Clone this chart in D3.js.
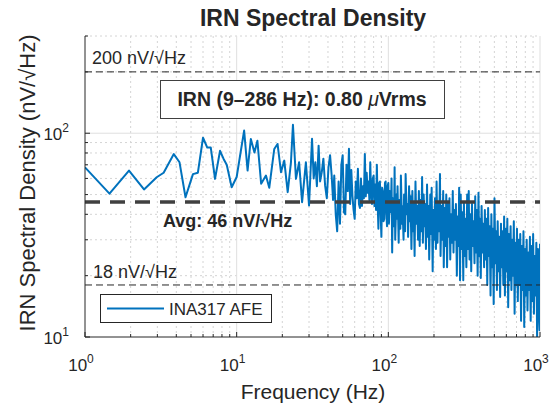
<!DOCTYPE html>
<html>
<head>
<meta charset="utf-8">
<title>IRN Spectral Density</title>
<script src="https://cdn.jsdelivr.net/npm/d3@7"></script>
<style>
  body { margin: 0; background: #fff; }
  text { font-family: "Liberation Sans", Arial, sans-serif; fill: #262626; }
</style>
</head>
<body>
<svg width="560" height="407"></svg>
<script>
// spectrum, split in four bands
var freqLow = [1, 1.45, 1.95, 2.45, 2.97, 3.3, 3.85, 4.2, 4.6, 5.15, 5.55, 6.0, 6.4, 6.75, 7.2, 7.77, 8.2, 8.6, 9.27, 10];
var irnLow  = [68, 50.5, 65.6, 53, 60.8, 64, 79, 72, 48.5, 63, 64, 95, 85, 85, 59.7, 82, 74.8, 70, 54.3, 61];

var freqMid = [10.6, 11.2, 11.8, 12.4, 13.1, 13.7, 14.5, 15.6, 16.4, 17.7, 18.6, 19.6, 20.6, 21.7, 22.8, 23.5, 24.6, 25.8, 27, 28.6, 30,
               31.4, 32.2, 33, 33.8, 34.7, 35.5, 36.4, 37.3, 38.3, 39.3, 40.3, 41.3, 42.3, 43.2];
var irnMid  = [80, 103, 65.6, 93.7, 80.5, 91.8, 56.5, 62, 54, 83.7, 88.6, 64.4, 73.4, 51.4, 72, 110, 59.7, 72, 45.9, 72, 44.2,
               94, 60, 72, 55, 86.9, 58, 64.4, 75, 55.3, 48, 68, 78, 62, 47];

var freqKnee = [44, 45, 46, 47, 48, 49, 50, 51, 52, 53, 54, 55, 56, 57, 58, 59, 60, 61, 62, 63, 64, 65, 66, 67, 68, 69, 70, 71,
                72, 73, 74, 75, 76, 77, 78, 79, 80, 81, 82, 83, 84, 85, 86, 87, 88, 89, 90, 91, 92, 93, 94, 95, 96, 97, 98, 99];
var irnKnee  = [62, 40, 33, 58, 36, 70, 78, 41, 40, 70, 52, 84, 45, 66, 49, 42, 38, 58, 48, 67, 45, 43, 60, 44, 55, 48, 79, 49,
                64, 51, 58, 47, 72, 50, 45, 60, 62, 44, 56, 42, 70, 46, 34, 57, 58, 40, 31, 54, 52, 37, 38, 57, 58, 41, 35, 55];

var freqHigh = [100, 101, 102, 104, 105, 106, 107, 109, 110, 111, 113, 114, 115, 117, 118, 120, 121, 123, 124, 126,
                127, 129, 130, 132, 134, 135, 137, 139, 140, 142, 144, 146, 147, 149, 151, 153, 155, 157, 159, 161,
                163, 165, 167, 169, 171, 173, 175, 177, 180, 182, 184, 186, 189, 191, 193, 196, 198, 201, 203, 206,
                208, 211, 213, 216, 219, 221, 224, 227, 230, 232, 235, 238, 241, 244, 247, 250, 253, 256, 259, 263,
                266, 269, 272, 276, 279, 283, 286, 290, 293, 297, 300, 304, 308, 312, 315, 319, 323, 327, 331, 335,
                339, 343, 348, 352, 356, 361, 365, 370, 374, 379, 383, 388, 393, 398, 402, 407, 412, 418, 423, 428,
                433, 438, 444, 449, 455, 460, 466, 472, 478, 483, 489, 495, 501, 508, 514, 520, 526, 533, 539, 546,
                553, 559, 566, 573, 580, 587, 595, 602, 609, 617, 624, 632, 640, 648, 656, 664, 672, 680, 688, 697,
                705, 714, 723, 732, 741, 750, 759, 768, 778, 787, 797, 807, 817, 827, 837, 847, 858, 868, 879, 890,
                901, 912, 923, 934, 946, 957, 969, 981, 993, 1000];
var irnHigh  = [57, 36, 52, 41, 60, 26, 48, 35, 68, 30, 50, 38, 55, 29, 47, 34, 62, 36, 44, 30,
                50, 33, 63, 40, 45, 31, 55, 37, 49, 27, 52, 33, 46, 25, 58, 36, 44, 30, 52, 28,
                47, 33, 61, 29, 50, 35, 45, 27, 56, 31, 44, 24, 50, 32, 54, 21, 42, 30, 48, 27,
                58, 29, 46, 33, 63, 25, 44, 30, 52, 22, 43, 28, 50, 22, 45, 31, 48, 24, 40, 29,
                52, 26, 42, 30, 45, 20, 39, 28, 54, 19, 50, 27, 41, 19, 46, 25, 38, 22, 50, 27,
                52, 24, 40, 21, 45, 28, 37, 23, 49, 26, 42, 20, 51, 25, 38, 19.5, 44, 26, 36, 22,
                42, 24, 38, 18, 43, 25, 35, 16, 40, 22, 34, 14.5, 48, 23, 33, 17, 37, 21, 31, 15.7,
                36, 22, 33, 18, 39, 16, 34, 21, 38, 14, 32, 19, 35, 17, 30, 20, 37, 13, 29, 18,
                34, 15, 30, 18, 32, 12, 28, 17, 33, 11.2, 27, 16, 30, 13.5, 26, 17, 31, 12, 28, 15,
                32, 13, 25, 16, 29, 10, 27, 14, 10.8, 28.7];

var refLevels = [200, 18];
var avgLevel = 46;
var xTicks = [1, 10, 100, 1000];
var yTicks = [10, 100];

var svg = d3.select("svg");
var plotL = 85, plotR = 540, plotT = 36, plotB = 337;

var x = d3.scaleLog().domain([1, 1000]).range([plotL, plotR]);
var y = d3.scaleLog().domain([10, 300]).range([plotB, plotT]);

var freq = freqLow.concat(freqMid, freqKnee, freqHigh);
var irn = irnLow.concat(irnMid, irnKnee, irnHigh);
var data = freq.map(function (f, i) { return [f, irn[i]]; });

// minor ticks between decades
var xMinor = [], yMinor = [];
[1, 10, 100].forEach(function (d) { for (var k = 2; k <= 9; k++) xMinor.push(d * k); });
[10, 100].forEach(function (d) { for (var k = 2; k <= 9; k++) if (d * k <= 300) yMinor.push(d * k); });

var grid = svg.append("g");
grid.selectAll("line.xmin").data(xMinor).enter().append("line")
    .attr("x1", d => x(d)).attr("x2", d => x(d)).attr("y1", plotT).attr("y2", plotB)
    .attr("stroke", "#d4d4d4").attr("stroke-dasharray", "2,3");
grid.selectAll("line.ymin").data(yMinor).enter().append("line")
    .attr("y1", d => y(d)).attr("y2", d => y(d)).attr("x1", plotL).attr("x2", plotR)
    .attr("stroke", "#d4d4d4").attr("stroke-dasharray", "2,3");
grid.selectAll("line.xmaj").data([10, 100, 1000]).enter().append("line")
    .attr("x1", d => x(d)).attr("x2", d => x(d)).attr("y1", plotT).attr("y2", plotB)
    .attr("stroke", "#dfdfdf");
grid.selectAll("line.ymaj").data([100]).enter().append("line")
    .attr("y1", d => y(d)).attr("y2", d => y(d)).attr("x1", plotL).attr("x2", plotR)
    .attr("stroke", "#dfdfdf");

svg.append("clipPath").attr("id", "clip").append("rect")
    .attr("x", plotL).attr("y", plotT).attr("width", plotR - plotL).attr("height", plotB - plotT);

var line = d3.line().x(d => x(d[0])).y(d => y(d[1]));
svg.append("path").datum(data)
    .attr("clip-path", "url(#clip)")
    .attr("fill", "none").attr("stroke", "#0072BD").attr("stroke-width", 2)
    .attr("stroke-linejoin", "round")
    .attr("d", line);

// reference lines
svg.selectAll("line.ref").data(refLevels).enter().append("line")
    .attr("x1", plotL).attr("x2", plotR).attr("y1", d => y(d)).attr("y2", d => y(d))
    .attr("stroke", "#262626").attr("stroke-width", 1).attr("stroke-dasharray", "7,4");
svg.append("line")
    .attr("x1", plotL).attr("x2", plotR).attr("y1", y(avgLevel)).attr("y2", y(avgLevel))
    .attr("stroke", "#404040").attr("stroke-width", 3.5).attr("stroke-dasharray", "15,10");

svg.append("text").attr("x", 92).attr("y", y(200) - 8).attr("font-size", 18)
    .text("200 nV/√Hz");
svg.append("text").attr("x", 93).attr("y", y(18) - 7).attr("font-size", 18)
    .text("18 nV/√Hz");
svg.append("text").attr("x", 163).attr("y", y(avgLevel) + 25).attr("font-size", 18)
    .attr("font-weight", "bold").text("Avg: 46 nV/√Hz");

// annotation box
svg.append("rect").attr("x", 160.5).attr("y", 80.5).attr("width", 284).attr("height", 38)
    .attr("fill", "#fff").attr("stroke", "#404040");
var ann = svg.append("text").attr("x", 302).attr("y", 106).attr("text-anchor", "middle")
    .attr("font-size", 19.5).attr("font-weight", "bold");
ann.append("tspan").text("IRN (9–286 Hz): 0.80 ");
ann.append("tspan").attr("font-style", "italic").attr("font-weight", "normal").text("μ");
ann.append("tspan").text("Vrms");

// axes
svg.append("line").attr("x1", plotL).attr("x2", plotL).attr("y1", plotT).attr("y2", plotB)
    .attr("stroke", "#262626");
svg.append("line").attr("x1", plotL).attr("x2", plotR).attr("y1", plotB).attr("y2", plotB)
    .attr("stroke", "#262626");
svg.selectAll("line.xt").data(xTicks.concat(xMinor)).enter().append("line")
    .attr("x1", d => x(d)).attr("x2", d => x(d)).attr("y1", plotB)
    .attr("y2", d => plotB - (xTicks.indexOf(d) >= 0 ? 5 : 3)).attr("stroke", "#262626");
svg.selectAll("line.yt").data(yTicks.concat(yMinor)).enter().append("line")
    .attr("y1", d => y(d)).attr("y2", d => y(d)).attr("x1", plotL)
    .attr("x2", d => plotL + (yTicks.indexOf(d) >= 0 ? 5 : 3)).attr("stroke", "#262626");

svg.selectAll("text.xl").data(xTicks).enter().append("text")
    .attr("x", d => x(d) - 4).attr("y", 371).attr("text-anchor", "middle").attr("font-size", 17)
    .each(function (d) {
        var t = d3.select(this);
        t.append("tspan").text("10");
        t.append("tspan").attr("dy", -8).attr("font-size", 12).text(Math.round(Math.log10(d)));
    });
svg.selectAll("text.yl").data(yTicks).enter().append("text")
    .attr("x", 69).attr("y", d => y(d) + 7).attr("text-anchor", "end").attr("font-size", 17)
    .each(function (d) {
        var t = d3.select(this);
        t.append("tspan").text("10");
        t.append("tspan").attr("dy", -8).attr("font-size", 12).text(Math.round(Math.log10(d)));
    });

svg.append("text").attr("x", 313).attr("y", 399).attr("text-anchor", "middle")
    .attr("font-size", 21).text("Frequency (Hz)");
svg.append("text").attr("transform", "translate(35,183) rotate(-90)").attr("text-anchor", "middle")
    .attr("font-size", 22).text("IRN Spectral Density (nV/√Hz)");
svg.append("text").attr("x", 313).attr("y", 26).attr("text-anchor", "middle")
    .attr("font-size", 23).attr("font-weight", "bold").text("IRN Spectral Density");

// legend
svg.append("rect").attr("x", 100.5).attr("y", 294.5).attr("width", 171).attr("height", 28)
    .attr("fill", "#fff").attr("stroke", "#262626");
svg.append("line").attr("x1", 107).attr("x2", 164).attr("y1", 308.5).attr("y2", 308.5)
    .attr("stroke", "#0072BD").attr("stroke-width", 2);
svg.append("text").attr("x", 169).attr("y", 314.5).attr("font-size", 17).text("INA317 AFE");
</script>
</body>
</html>
